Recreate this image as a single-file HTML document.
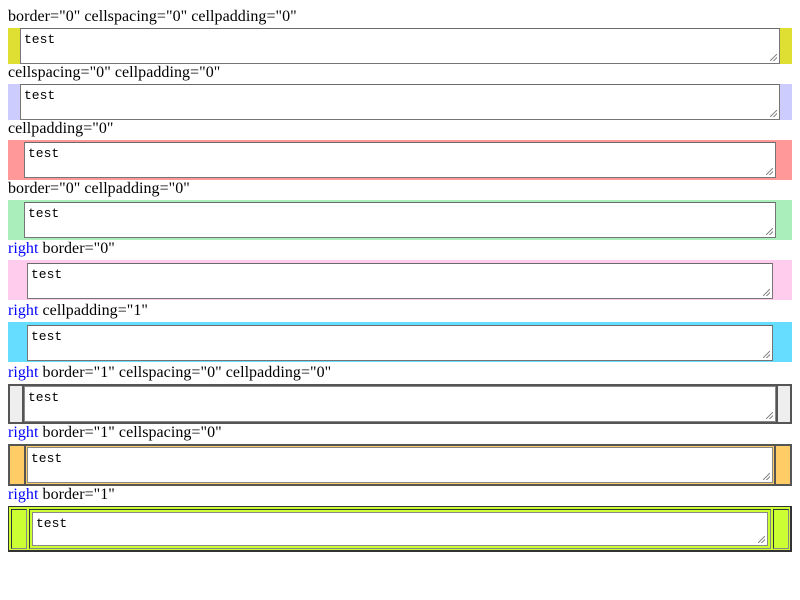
<!DOCTYPE html>
<html><head><style>
body{margin:0;background:#fff;width:800px;height:600px;position:relative;overflow:hidden;font-family:"Liberation Serif",serif;font-size:16px}
.l{position:absolute;left:8px;line-height:18px;white-space:nowrap;letter-spacing:0.05px}
.l b{font-weight:normal;color:#00f}
.b{position:absolute;box-sizing:border-box}
.t{position:absolute;box-sizing:border-box;background:#fff;border:1px solid #767676;border-top-color:#6a6a6a;font-family:"Liberation Mono",monospace;font-size:13px;padding:3px 3px;line-height:15px}
.t:after{content:"";position:absolute;right:2px;bottom:2px;width:7px;height:7px;background:linear-gradient(135deg,transparent 45%,#888 45%,#888 55%,transparent 55%,transparent 70%,#888 70%,#888 80%,transparent 80%)}
</style></head><body>
<div class="l" style="top:8px">border="0" cellspacing="0" cellpadding="0"</div>
<div class="b" style="left:8px;top:28px;width:784px;height:36px;background:#dede33"></div>
<div class="t" style="left:20px;top:28px;width:760px;height:36px">test</div>

<div class="l" style="top:64px">cellspacing="0" cellpadding="0"</div>
<div class="b" style="left:8px;top:84px;width:784px;height:36px;background:#ccccff"></div>
<div class="t" style="left:20px;top:84px;width:760px;height:36px">test</div>

<div class="l" style="top:120px">cellpadding="0"</div>
<div class="b" style="left:8px;top:140px;width:784px;height:40px;background:#ff9999"></div>
<div class="t" style="left:24px;top:142px;width:752px;height:36px">test</div>

<div class="l" style="top:180px">border="0" cellpadding="0"</div>
<div class="b" style="left:8px;top:200px;width:784px;height:40px;background:#aaeebb"></div>
<div class="t" style="left:24px;top:202px;width:752px;height:36px">test</div>

<div class="l" style="top:240px"><b>right</b> border="0"</div>
<div class="b" style="left:8px;top:260px;width:784px;height:40px;background:#ffccee"></div>
<div class="t" style="left:27px;top:263px;width:746px;height:36px">test</div>

<div class="l" style="top:302px"><b>right</b> cellpadding="1"</div>
<div class="b" style="left:8px;top:322px;width:784px;height:40px;background:#66ddff"></div>
<div class="t" style="left:27px;top:325px;width:746px;height:36px">test</div>

<div class="l" style="top:364px"><b>right</b> border="1" cellspacing="0" cellpadding="0"</div>
<div class="b" style="left:8px;top:384px;width:784px;height:40px;background:#eee;border:2px solid #555"></div>
<div class="b" style="left:22px;top:385px;width:2px;height:38px;background:#555"></div>
<div class="b" style="left:776px;top:385px;width:2px;height:38px;background:#555"></div>
<div class="t" style="left:24px;top:386px;width:752px;height:36px;border:1px solid #888">test</div>

<div class="l" style="top:424px"><b>right</b> border="1" cellspacing="0"</div>
<div class="b" style="left:8px;top:444px;width:784px;height:42px;background:#ffcc66;border:2px solid #555"></div>
<div class="b" style="left:24px;top:445px;width:2px;height:40px;background:#555"></div>
<div class="b" style="left:774px;top:445px;width:2px;height:40px;background:#555"></div>
<div class="t" style="left:27px;top:447px;width:746px;height:36px;border:1px solid #888">test</div>

<div class="l" style="top:486px"><b>right</b> border="1"</div>
<div class="b" style="left:8px;top:506px;width:784px;height:46px;background:#ccff33;border:1px solid #333;border-width:1px 2px 2px 1px"></div>
<div class="b" style="left:11px;top:509px;width:16px;height:40px;border:1px solid #333;border-right-color:#888;border-bottom-color:#888"></div>
<div class="b" style="left:29px;top:509px;width:742px;height:40px;border:1px solid #333;border-right-color:#888;border-bottom-color:#888"></div>
<div class="b" style="left:773px;top:509px;width:16px;height:40px;border:1px solid #333;border-right-color:#888;border-bottom-color:#888"></div>
<div class="t" style="left:32px;top:512px;width:736px;height:34px;border:1px solid #888">test</div>
</body></html>
